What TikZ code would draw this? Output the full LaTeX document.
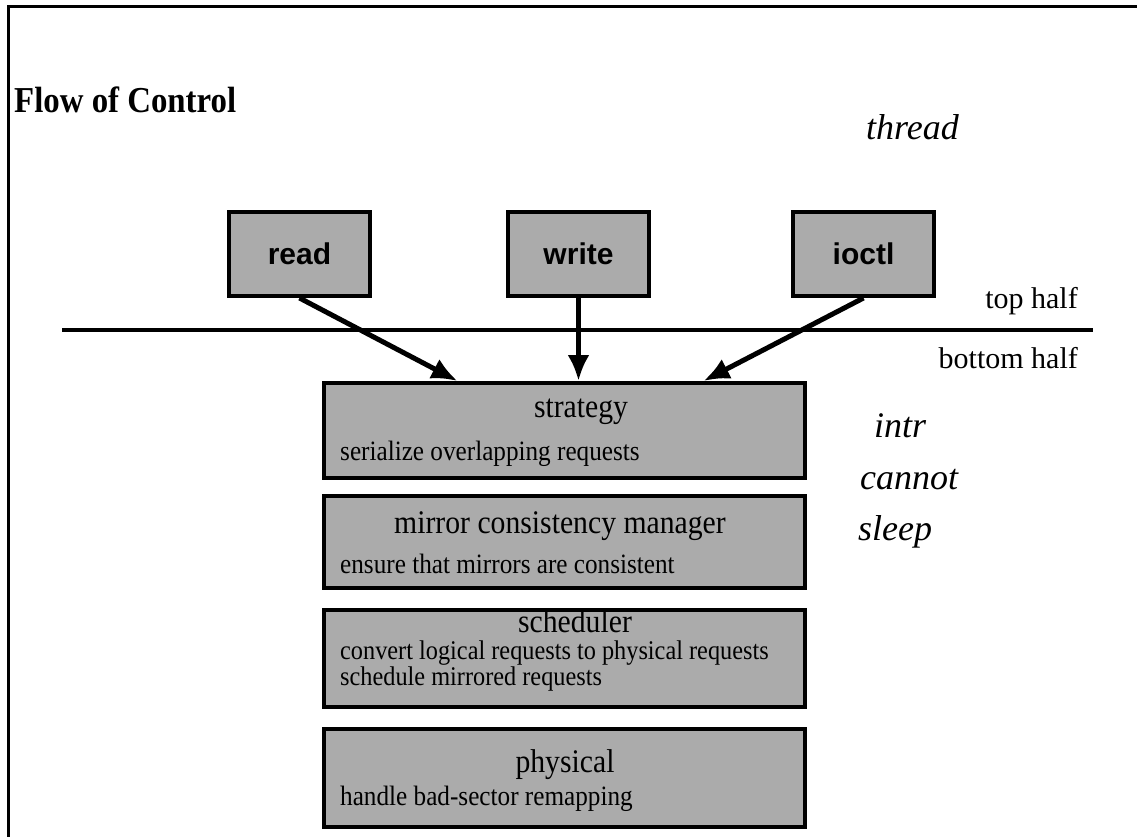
\documentclass[tikz,border=0pt]{standalone}
\usepackage{fontspec}
\setmainfont{Liberation Serif}
\newfontfamily\sansf{Liberation Sans}
\newfontfamily\condserif[FakeStretch=0.9]{Liberation Serif}
\usetikzlibrary{arrows.meta,calc}
\begin{document}
\begin{tikzpicture}[x=1pt,y=-1pt,
  smallbox/.style={draw=black,line width=4pt,fill=black!33,minimum width=141pt,minimum height=84pt,inner sep=0pt,
     font=\sansf\bfseries\fontsize{30}{32}\selectfont},
  layerbox/.style={draw=black,line width=4pt,fill=black!33,minimum width=481pt,inner sep=0pt,anchor=north west},
  headtxt/.style={anchor=base,inner sep=0pt,font=\condserif\fontsize{33}{35}\selectfont},
  subtxt/.style={anchor=base west,inner sep=0pt,font=\condserif\fontsize{28}{30}\selectfont},
  halftxt/.style={anchor=base east,inner sep=0pt,font=\fontsize{30}{32}\selectfont},
  hand/.style={anchor=base west,inner sep=0pt,font=\itshape\fontsize{36}{38}\selectfont},
  flow/.style={line width=5pt,-{Latex[length=26pt,width=22pt]}},
  ]
\useasboundingbox (0,0) rectangle (1137,837);
% frame
\draw[line width=3pt] (8,837) -- (8,7) -- (1137,7);
% title
\node[anchor=base west,inner sep=0pt,font=\condserif\bfseries\fontsize{36.5}{40}\selectfont] (title) at (14,113) {Flow of Control};
% handwritten notes
\node[hand] (thread) at (866,140) {thread};
\node[hand] (intr) at (874,437) {intr};
\node[hand] (cannot) at (860,489) {cannot};
\node[hand] (sleep) at (858,540) {sleep};
% top boxes
\node[smallbox,anchor=north west] (read) at (227,210) {read};
\node[smallbox,anchor=north west] (write) at (506,210) {write};
\node[smallbox,anchor=north west] (ioctl) at (791,210) {ioctl};
% divider
\coordinate (divL) at (62,330);
\coordinate (divR) at (1093,330);
\draw[line width=4pt] (divL) -- (divR);
\node[halftxt] (tophalf) at (1078,308) {top half};
\node[halftxt] (bothalf) at (1078,368) {bottom half};
% layer boxes
\node[layerbox,minimum height=95pt] (strategy) at (322,381) {};
\node[layerbox,minimum height=92pt] (mirror) at (322,494) {};
\node[layerbox,minimum height=97pt] (scheduler) at (322,608) {};
\node[layerbox,minimum height=98pt] (physical) at (322,727) {};
% texts
\node[headtxt] (strategyH) at (581,417) {strategy};
\node[subtxt] (strategyS) at (340,460) {serialize overlapping requests};
\node[headtxt] (mirrorH) at (560,533) {mirror consistency manager};
\node[subtxt] (mirrorS) at (340,573) {ensure that mirrors are consistent};
\node[headtxt] (schedulerH) at (575,632) {scheduler};
\node[subtxt,font=\condserif\fontsize{27}{29}\selectfont] (schedulerS1) at (340,659) {convert logical requests to physical requests};
\node[subtxt,font=\condserif\fontsize{27}{29}\selectfont] (schedulerS2) at (340,685) {schedule mirrored requests};
\node[headtxt] (physicalH) at (565,772) {physical};
\node[subtxt] (physicalS) at (340,805) {handle bad-sector remapping};
% arrows
\draw[flow] (read.south) -- ([xshift=-107pt]strategy.north);
\draw[flow] (write.south) -- (write.south |- strategy.north);
\draw[flow] (ioctl.south) -- ([xshift=139pt]strategy.north);
\end{tikzpicture}
\end{document}
